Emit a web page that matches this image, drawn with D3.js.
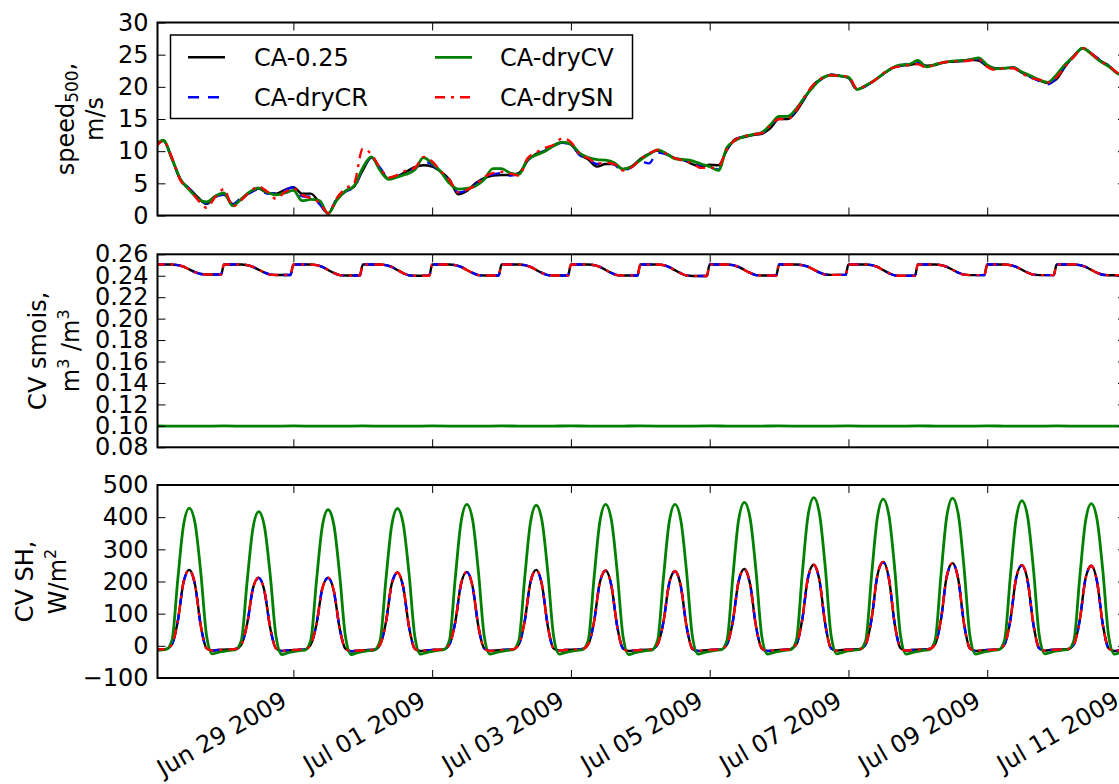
<!DOCTYPE html>
<html>
<head>
<meta charset="utf-8">
<script src="https://cdn.jsdelivr.net/npm/d3@7"></script>
<style>
  html, body { margin: 0; padding: 0; background: #fff; overflow: hidden; }
  svg { display: block; font-family: "DejaVu Sans", sans-serif; }
</style>
</head>
<body>
<svg id="fig" width="1119" height="784"></svg>
<script>
// ---------------------------------------------------------------------------
// Model runs
const seriesNames  = ["CA-0.25", "CA-dryCR", "CA-dryCV", "CA-drySN"];
const seriesColors = ["#000000", "#0000ff", "#008000", "#ff0000"];
const seriesDash   = [null, "11,9", null, "10,6,3,6"];

// Time: hours since 2009-06-27 00:00 UTC
const startUTC = Date.UTC(2009, 5, 27, 0);
const xDomain  = [Date.UTC(2009, 5, 27, 1), Date.UTC(2009, 6, 11, 0)];
const xTickDates = ["2009-06-29", "2009-07-01", "2009-07-03", "2009-07-05",
                    "2009-07-07", "2009-07-09", "2009-07-11"];

// Panel 1: 500 hPa wind speed (m/s), every 3 h from 00 UTC Jun 27
const speedStep = 3;
const speedCtl = [
  10.8,11.6,8.8,5.5,4.2,2.8,1.8,3.0,3.3,1.8,
  2.5,3.6,4.2,3.5,3.4,4.0,4.4,3.4,3.4,2.0,
  0.3,2.5,3.8,4.5,7.0,9.0,7.2,5.7,6.1,6.8,
  7.5,7.8,7.6,6.8,5.6,3.3,3.8,5.0,5.8,6.2,
  6.3,6.3,6.6,8.5,9.6,10.0,10.9,11.4,11.0,9.5,
  8.7,7.6,8.0,8.0,7.2,7.6,8.8,9.6,10.1,9.6,
  8.9,8.6,8.0,7.6,7.9,7.8,10.2,11.9,12.2,12.5,
  12.7,13.6,15.0,15.0,16.2,18.3,20.4,21.3,21.9,21.7,
  21.4,19.6,20.2,21.0,22.0,22.9,23.3,23.4,23.6,23.3,
  23.4,23.8,23.9,24.0,24.2,24.1,23.2,22.9,22.9,23.0,
  22.2,21.6,21.0,20.6,21.2,23.2,24.8,26.0,25.2,24.1,
  23.3,22.1,21.6];
const speedDryCR = [
  10.7,11.6,8.9,5.5,4.2,2.7,1.9,2.9,3.2,1.7,
  2.8,3.5,4.1,3.4,3.5,3.9,4.4,3.0,2.9,1.8,
  0.3,2.6,3.7,4.4,7.2,9.0,7.4,5.8,6.0,6.7,
  7.3,8.4,7.9,6.6,5.4,3.6,3.9,4.8,5.9,6.4,
  6.6,6.2,6.5,8.6,9.5,10.1,10.8,11.3,11.0,9.4,
  8.8,8.0,8.3,7.9,7.0,7.5,8.4,8.1,9.8,9.5,
  8.9,8.6,8.2,7.8,7.8,7.1,10.4,11.8,12.3,12.6,
  12.8,13.9,15.2,15.2,16.4,18.4,20.2,21.3,21.9,21.7,
  21.4,19.5,20.1,21.0,22.0,22.8,23.3,23.6,23.7,23.2,
  23.5,23.8,24.0,24.0,24.1,24.3,23.2,22.8,22.9,23.0,
  22.2,21.5,20.9,20.4,21.4,23.3,24.8,26.0,25.2,24.2,
  23.3,22.1,21.6];
const speedDryCV = [
  10.8,11.7,8.8,5.6,4.0,2.6,2.1,3.0,3.5,1.5,
  2.6,3.7,4.3,3.6,3.2,3.5,3.9,2.3,2.5,2.3,
  0.3,2.4,3.8,4.6,7.4,9.1,7.0,5.6,6.0,6.4,
  7.1,9.0,8.1,6.8,5.0,4.1,4.2,4.6,5.6,7.3,
  7.3,6.6,6.4,8.7,9.4,10.0,10.8,11.4,11.1,9.7,
  9.0,8.7,8.6,8.2,7.2,7.6,8.6,9.5,10.2,9.6,
  8.8,8.7,8.5,8.0,7.6,7.0,10.6,11.7,12.3,12.6,
  12.9,14.1,15.4,15.4,16.6,18.5,20.1,21.4,21.8,21.7,
  21.5,19.6,20.2,21.0,22.0,22.9,23.4,23.5,24.1,23.1,
  23.5,23.8,24.0,24.1,24.2,24.5,23.4,22.8,22.9,23.0,
  22.3,21.7,21.1,20.7,21.9,23.5,24.8,26.0,25.1,24.0,
  23.2,22.1,21.6];
const speedDrySN = [
  10.4,11.6,9.0,5.4,4.1,2.4,1.2,2.9,4.1,1.4,
  2.4,3.7,4.5,3.7,2.6,3.6,4.2,3.2,2.7,2.0,
  0.4,2.7,4.2,5.0,10.4,9.5,7.4,5.9,6.3,7.0,
  7.4,9.1,8.4,6.9,5.5,3.6,4.0,4.7,6.0,6.6,
  6.8,6.5,6.2,8.9,9.8,10.5,11.0,12.0,11.4,9.6,
  8.9,8.1,8.2,8.0,7.0,7.5,8.7,9.6,10.2,9.6,
  8.9,8.5,8.1,7.4,7.4,7.6,10.3,11.8,12.3,12.6,
  12.8,14.0,15.0,15.0,16.4,18.6,20.4,21.4,21.8,21.7,
  21.6,19.7,20.2,21.0,22.1,22.9,23.2,23.4,23.5,23.0,
  23.5,23.8,24.0,24.0,24.1,24.3,23.1,22.6,22.9,22.9,
  22.1,21.4,21.1,20.7,21.5,23.2,24.7,26.0,25.2,24.0,
  23.3,22.2,21.6];

// Panel 2: Central Valley soil moisture (m3/m3); one row per day,
// sampled at the hours listed in smoisDayHours
const smoisDayHours = [0, 2, 4, 6, 8, 10, 12, 14, 16, 18, 20, 22, 23];
const smoisCtl = [
  .2505,.2505,.2505,.2505,.2499,.2485,.2459,.2433,.2416,.2412,.2412,.2412,.2412,
  .2505,.2505,.2505,.2505,.2499,.2483,.2456,.2430,.2411,.2407,.2407,.2407,.2407,
  .2505,.2505,.2505,.2505,.2499,.2482,.2454,.2426,.2406,.2402,.2402,.2402,.2402,
  .2505,.2505,.2505,.2505,.2499,.2482,.2453,.2424,.2404,.2400,.2400,.2400,.2400,
  .2505,.2505,.2505,.2505,.2499,.2482,.2454,.2426,.2406,.2402,.2402,.2402,.2402,
  .2505,.2505,.2505,.2505,.2499,.2482,.2454,.2426,.2406,.2402,.2402,.2402,.2402,
  .2505,.2505,.2505,.2505,.2499,.2482,.2454,.2426,.2406,.2402,.2402,.2402,.2402,
  .2505,.2505,.2505,.2505,.2499,.2481,.2452,.2423,.2402,.2398,.2398,.2398,.2398,
  .2505,.2505,.2505,.2505,.2499,.2482,.2454,.2426,.2406,.2402,.2402,.2402,.2402,
  .2505,.2505,.2505,.2505,.2499,.2484,.2457,.2430,.2412,.2408,.2408,.2408,.2408,
  .2505,.2505,.2505,.2505,.2499,.2482,.2453,.2424,.2404,.2400,.2400,.2400,.2400,
  .2505,.2505,.2505,.2505,.2499,.2483,.2456,.2429,.2410,.2406,.2406,.2406,.2406,
  .2505,.2505,.2505,.2505,.2499,.2483,.2456,.2429,.2410,.2406,.2406,.2406,.2406,
  .2505,.2505,.2505,.2505,.2499,.2483,.2455,.2428,.2409,.2405,.2405,.2405,.2405];
const smoisDryCR = [
  .2505,.2505,.2505,.2505,.2499,.2485,.2459,.2433,.2416,.2412,.2412,.2412,.2412,
  .2505,.2505,.2505,.2505,.2499,.2483,.2456,.2430,.2411,.2407,.2407,.2407,.2407,
  .2505,.2505,.2505,.2505,.2499,.2482,.2454,.2426,.2406,.2402,.2402,.2402,.2402,
  .2505,.2505,.2505,.2505,.2499,.2482,.2453,.2424,.2404,.2400,.2400,.2400,.2400,
  .2505,.2505,.2505,.2505,.2499,.2482,.2454,.2426,.2406,.2402,.2402,.2402,.2402,
  .2505,.2505,.2505,.2505,.2499,.2482,.2454,.2426,.2406,.2402,.2402,.2402,.2402,
  .2505,.2505,.2505,.2505,.2499,.2482,.2454,.2426,.2406,.2402,.2402,.2402,.2402,
  .2505,.2505,.2505,.2505,.2499,.2481,.2452,.2423,.2402,.2398,.2398,.2398,.2398,
  .2505,.2505,.2505,.2505,.2499,.2482,.2454,.2426,.2406,.2402,.2402,.2402,.2402,
  .2505,.2505,.2505,.2505,.2499,.2484,.2457,.2430,.2412,.2408,.2408,.2408,.2408,
  .2505,.2505,.2505,.2505,.2499,.2482,.2453,.2424,.2404,.2400,.2400,.2400,.2400,
  .2505,.2505,.2505,.2505,.2499,.2483,.2456,.2429,.2410,.2406,.2406,.2406,.2406,
  .2505,.2505,.2505,.2505,.2499,.2483,.2456,.2429,.2410,.2406,.2406,.2406,.2406,
  .2505,.2505,.2505,.2505,.2499,.2483,.2455,.2428,.2409,.2405,.2405,.2405,.2405];
const smoisDrySN = [
  .2505,.2505,.2505,.2505,.2499,.2485,.2459,.2433,.2416,.2412,.2412,.2412,.2412,
  .2505,.2505,.2505,.2505,.2499,.2483,.2456,.2430,.2411,.2407,.2407,.2407,.2407,
  .2505,.2505,.2505,.2505,.2499,.2482,.2454,.2426,.2406,.2402,.2402,.2402,.2402,
  .2505,.2505,.2505,.2505,.2499,.2482,.2453,.2424,.2404,.2400,.2400,.2400,.2400,
  .2505,.2505,.2505,.2505,.2499,.2482,.2454,.2426,.2406,.2402,.2402,.2402,.2402,
  .2505,.2505,.2505,.2505,.2499,.2482,.2454,.2426,.2406,.2402,.2402,.2402,.2402,
  .2505,.2505,.2505,.2505,.2499,.2482,.2454,.2426,.2406,.2402,.2402,.2402,.2402,
  .2505,.2505,.2505,.2505,.2499,.2481,.2452,.2423,.2402,.2398,.2398,.2398,.2398,
  .2505,.2505,.2505,.2505,.2499,.2482,.2454,.2426,.2406,.2402,.2402,.2402,.2402,
  .2505,.2505,.2505,.2505,.2499,.2484,.2457,.2430,.2412,.2408,.2408,.2408,.2408,
  .2505,.2505,.2505,.2505,.2499,.2482,.2453,.2424,.2404,.2400,.2400,.2400,.2400,
  .2505,.2505,.2505,.2505,.2499,.2483,.2456,.2429,.2410,.2406,.2406,.2406,.2406,
  .2505,.2505,.2505,.2505,.2499,.2483,.2456,.2429,.2410,.2406,.2406,.2406,.2406,
  .2505,.2505,.2505,.2505,.2499,.2483,.2455,.2428,.2409,.2405,.2405,.2405,.2405];
// dry Central Valley run: every 6 h from 00 UTC Jun 27
const smoisDryCVStep = 6;
const smoisDryCV = [
  .0999,.0998,.0997,.0998, .0999,.0998,.0997,.0998, .0999,.0998,.0997,.0998,
  .0999,.0998,.0997,.0998, .0999,.0998,.0997,.0998, .0999,.0998,.0997,.0998,
  .0999,.0998,.0997,.0998, .0999,.0998,.0997,.0998, .0999,.0998,.0997,.0998,
  .0999,.0998,.0997,.0998, .0999,.0998,.0997,.0998, .0999,.0998,.0997,.0998,
  .0999,.0998,.0997,.0998, .0999,.0998,.0997,.0998, .0998];

// Panel 3: Central Valley sensible heat flux (W/m2), every 2 h from 00 UTC Jun 27
const shStep = 2;
const shCtl = [
  -12,-11,-10,5,76,198,236,189,61,-8,-15,-13,
  -12,-11,-10,4,68,178,212,170,55,-8,-16,-14,
  -13,-12,-11,4,68,178,212,170,55,-9,-17,-15,
  -14,-13,-12,4,73,192,228,182,59,-9,-16,-14,
  -13,-12,-11,5,74,193,230,184,60,-8,-16,-14,
  -13,-12,-11,5,76,198,236,189,61,-8,-15,-13,
  -12,-11,-10,5,75,197,234,187,61,-8,-16,-14,
  -13,-12,-11,5,74,195,232,186,60,-9,-16,-14,
  -13,-12,-11,5,76,201,239,191,62,-8,-16,-14,
  -13,-12,-10,5,81,212,252,202,66,-8,-15,-13,
  -12,-11,-10,6,84,219,261,209,68,-7,-15,-13,
  -12,-11,-10,6,82,216,257,206,67,-8,-16,-14,
  -13,-12,-11,5,80,211,251,201,65,-8,-15,-13,
  -12,-11,-10,5,80,209,249,199,65,-8,-16,-14,
  -13];
const shDryCR = [
  -12,-11,-10,5,75,197,235,188,60,-8,-15,-13,
  -12,-11,-10,4,67,177,211,169,55,-8,-16,-14,
  -13,-12,-11,4,67,178,211,170,55,-9,-17,-15,
  -14,-13,-12,4,72,191,227,182,59,-9,-16,-14,
  -13,-12,-11,5,73,192,229,183,60,-8,-16,-14,
  -13,-12,-11,5,75,197,235,188,61,-8,-15,-13,
  -12,-11,-10,5,74,196,233,187,61,-8,-16,-14,
  -13,-12,-11,5,73,194,231,185,60,-9,-16,-14,
  -13,-12,-11,5,75,200,238,190,62,-8,-16,-14,
  -13,-12,-10,5,80,211,251,201,66,-8,-15,-13,
  -12,-11,-10,6,83,218,260,208,68,-7,-15,-13,
  -12,-11,-10,6,81,215,256,205,67,-8,-16,-14,
  -13,-12,-11,5,79,210,250,200,65,-8,-15,-13,
  -12,-11,-10,5,79,208,248,198,65,-8,-16,-14,
  -13];
const shDryCV = [
  -15,-13,-11,17,205,375,428,380,225,30,-25,-20,
  -17,-14,-12,17,200,365,417,370,219,29,-27,-22,
  -18,-15,-13,17,203,371,423,376,222,30,-27,-22,
  -18,-15,-13,17,205,374,427,379,225,30,-26,-21,
  -17,-14,-12,18,211,385,440,391,231,31,-26,-21,
  -17,-14,-12,17,210,383,437,388,230,31,-26,-21,
  -17,-14,-12,18,211,385,440,391,231,31,-27,-22,
  -18,-15,-13,18,211,385,440,391,231,31,-26,-21,
  -17,-14,-12,18,214,391,446,396,235,31,-26,-21,
  -17,-14,-12,18,221,404,461,409,242,32,-25,-20,
  -16,-13,-11,18,219,399,456,405,240,32,-26,-21,
  -17,-14,-12,18,220,402,459,408,241,32,-26,-21,
  -17,-14,-12,18,216,395,451,400,237,32,-25,-20,
  -16,-13,-11,18,212,387,442,392,232,31,-26,-21,
  -17];
const shDrySN = [
  -12,-11,-10,5,76,198,236,189,61,-8,-15,-13,
  -12,-11,-10,4,68,178,212,170,55,-8,-16,-14,
  -13,-12,-11,4,68,178,212,170,55,-9,-17,-15,
  -14,-13,-12,4,73,192,228,182,59,-9,-16,-14,
  -13,-12,-11,5,74,193,230,184,60,-8,-16,-14,
  -13,-12,-11,5,76,198,236,189,61,-8,-15,-13,
  -12,-11,-10,5,75,197,234,187,61,-8,-16,-14,
  -13,-12,-11,5,74,195,232,186,60,-9,-16,-14,
  -13,-12,-11,5,76,201,239,191,62,-8,-16,-14,
  -13,-12,-10,5,81,212,252,202,66,-8,-15,-13,
  -12,-11,-10,6,84,219,261,209,68,-7,-15,-13,
  -12,-11,-10,6,82,216,257,206,67,-8,-16,-14,
  -13,-12,-11,5,80,211,251,201,65,-8,-15,-13,
  -12,-11,-10,5,80,209,249,199,65,-8,-16,-14,
  -13];

// Axis ticks
const speedTicks = [0, 5, 10, 15, 20, 25, 30];
const smoisTicks = [0.08, 0.10, 0.12, 0.14, 0.16, 0.18, 0.20, 0.22, 0.24, 0.26];
const shTicks    = [-100, 0, 100, 200, 300, 400, 500];

// ---------------------------------------------------------------------------
// Helpers to attach timestamps to the value lists
const HOUR = 3600 * 1000;
function regular(values, stepHours) {
  return values.map((v, i) => ({ t: startUTC + i * stepHours * HOUR, v }));
}
function daily(values, dayHours) {
  const n = dayHours.length;
  return values.map((v, i) => ({
    t: startUTC + (Math.floor(i / n) * 24 + dayHours[i % n]) * HOUR, v }));
}

const panels = [
  {
    yDomain: [0, 30], ticks: speedTicks, fmt: d3.format("d"),
    series: [regular(speedCtl, speedStep), regular(speedDryCR, speedStep),
             regular(speedDryCV, speedStep), regular(speedDrySN, speedStep)],
    label: "speed"
  },
  {
    yDomain: [0.08, 0.26], ticks: smoisTicks, fmt: d3.format(".2f"),
    series: [daily(smoisCtl, smoisDayHours), daily(smoisDryCR, smoisDayHours),
             regular(smoisDryCV, smoisDryCVStep), daily(smoisDrySN, smoisDayHours)],
    label: "smois"
  },
  {
    yDomain: [-100, 500], ticks: shTicks, fmt: d3.format("d"),
    series: [regular(shCtl, shStep), regular(shDryCR, shStep),
             regular(shDryCV, shStep), regular(shDrySN, shStep)],
    label: "sh"
  }
];

// ---------------------------------------------------------------------------
// Layout
const svg = d3.select("#fig");
const plotLeft = 157.5, plotRight = 1126;
const panelTops = [22.5, 254.3, 485];
const panelH = 193;
const tickLen = 8;
const fontSize = 24;

const x = d3.scaleUtc().domain(xDomain).range([plotLeft, plotRight]);
const xTickVals = xTickDates.map(s => new Date(s + "T00:00:00Z"));

panels.forEach((p, pi) => {
  const top = panelTops[pi], bottom = top + panelH;
  const y = d3.scaleLinear().domain(p.yDomain).range([bottom, top]);
  const g = svg.append("g");

  const clipId = "clip" + pi;
  svg.append("clipPath").attr("id", clipId)
    .append("rect").attr("x", plotLeft).attr("y", top)
    .attr("width", plotRight - plotLeft).attr("height", panelH);

  // data lines
  const line = d3.line().x(d => x(d.t)).y(d => y(d.v)).curve(d3.curveMonotoneX);
  const lg = g.append("g").attr("clip-path", `url(#${clipId})`);
  p.series.forEach((s, si) => {
    lg.append("path").datum(s)
      .attr("d", line)
      .attr("fill", "none")
      .attr("stroke", seriesColors[si])
      .attr("stroke-width", si === 2 ? 2.8 : 2.4)
      .attr("stroke-dasharray", seriesDash[si])
      .attr("stroke-linejoin", "round");
  });

  // y axes (ticks pointing inward)
  const yl = g.append("g").attr("transform", `translate(${plotLeft},0)`)
    .call(d3.axisLeft(y).tickValues(p.ticks).tickFormat(p.fmt)
      .tickSizeInner(-tickLen).tickSizeOuter(0).tickPadding(9));
  const yr = g.append("g").attr("transform", `translate(${plotRight},0)`)
    .call(d3.axisRight(y).tickValues(p.ticks).tickFormat("")
      .tickSizeInner(-tickLen).tickSizeOuter(0));
  // x axes (ticks pointing inward)
  const xt = g.append("g").attr("transform", `translate(0,${top})`)
    .call(d3.axisTop(x).tickValues(xTickVals).tickFormat("")
      .tickSizeInner(-tickLen).tickSizeOuter(0));
  const xb = g.append("g").attr("transform", `translate(0,${bottom})`)
    .call(d3.axisBottom(x).tickValues(xTickVals).tickFormat("")
      .tickSizeInner(-tickLen).tickSizeOuter(0));
  [yl, yr, xt, xb].forEach(a => {
    a.select(".domain").remove();
    a.selectAll(".tick line").attr("stroke", "#000").attr("stroke-width", 1);
    a.selectAll(".tick text").attr("font-size", fontSize)
      .attr("font-family", '"DejaVu Sans", sans-serif').attr("fill", "#000");
  });

  // frame
  g.append("rect").attr("x", plotLeft).attr("y", top)
    .attr("width", plotRight - plotLeft).attr("height", panelH)
    .attr("fill", "none").attr("stroke", "#000").attr("stroke-width", 2);

  // date labels under the last panel
  if (pi === panels.length - 1) {
    const fmt = d3.utcFormat("%b %d %Y");
    g.append("g").selectAll("text").data(xTickVals).join("text")
      .attr("transform", d => `translate(${x(d) - 5},${bottom + 27}) rotate(-30)`)
      .attr("text-anchor", "end")
      .attr("font-size", fontSize)
      .text(d => fmt(d));
  }

  // y-axis titles
  const cy = (top + bottom) / 2;
  const title = (xBase, build) => {
    const t = svg.append("text")
      .attr("transform", `translate(${xBase},${cy}) rotate(-90)`)
      .attr("text-anchor", "middle").attr("font-size", fontSize);
    build(t);
  };
  if (p.label === "speed") {
    title(74, t => {
      t.append("tspan").text("speed");
      t.append("tspan").attr("font-size", 17).attr("dy", 4).text("500");
      t.append("tspan").attr("dy", -4).text(",");
    });
    title(103, t => t.text("m/s"));
  } else if (p.label === "smois") {
    title(46, t => t.text("CV smois,"));
    title(79, t => {
      t.append("tspan").text("m");
      t.append("tspan").attr("font-size", 16).attr("dy", -10).text("3");
      t.append("tspan").attr("dy", 10).text(" /m");
      t.append("tspan").attr("font-size", 16).attr("dy", -10).text("3");
    });
  } else {
    title(33, t => t.text("CV SH,"));
    title(66, t => {
      t.append("tspan").text("W/m");
      t.append("tspan").attr("font-size", 16).attr("dy", -10).text("2");
    });
  }
});

// Legend (two columns) in the top panel
const legend = svg.append("g");
legend.append("rect").attr("x", 170.5).attr("y", 35)
  .attr("width", 462).attr("height", 83.5)
  .attr("fill", "#fff").attr("stroke", "#000").attr("stroke-width", 1.5);
const legCols = [{ lx: 188, tx: 254 }, { lx: 435, tx: 500 }];
const legRows = [57.3, 97.3];
seriesNames.forEach((name, i) => {
  const c = legCols[Math.floor(i / 2)], r = legRows[i % 2];
  legend.append("line")
    .attr("x1", c.lx).attr("x2", c.lx + 37).attr("y1", r).attr("y2", r)
    .attr("stroke", seriesColors[i]).attr("stroke-width", i === 2 ? 2.8 : 2.4)
    .attr("stroke-dasharray", seriesDash[i]);
  legend.append("text").attr("x", c.tx).attr("y", r + 8.5)
    .attr("font-size", fontSize).text(name);
});
</script>
</body>
</html>
